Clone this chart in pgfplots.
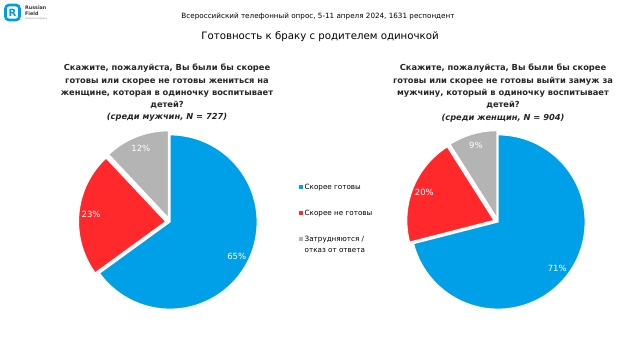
\documentclass[border=0pt]{standalone}
\usepackage{pgfplots}
\pgfplotsset{compat=1.18}
\usepackage{pgfplotstable}
\usepackage{fontspec}
\setmainfont{DejaVu Sans}
\definecolor{pieblue}{RGB}{0,160,233}
\definecolor{piered}{RGB}{255,40,42}
\definecolor{piegray}{RGB}{180,180,180}
\definecolor{logoblue}{RGB}{0,155,225}

\pgfplotstableread{
idx pct
0 65
1 23
2 12
}\menTable
\pgfplotstableread{
idx pct
0 71
1 20
2 9
}\womenTable

% draw one pie from a table (values in percent, clockwise from 12 o'clock)
\newcommand{\drawpie}[1]{%
  \pgfplotstablegetelem{0}{pct}\of#1\edef\pA{\pgfplotsretval}%
  \pgfplotstablegetelem{1}{pct}\of#1\edef\pB{\pgfplotsretval}%
  \pgfplotstablegetelem{2}{pct}\of#1\edef\pC{\pgfplotsretval}%
  \pgfmathsetmacro\aS{90}%
  \pgfmathsetmacro\aA{90-3.6*\pA}%
  \pgfmathsetmacro\aB{\aA-3.6*\pB}%
  \pgfmathsetmacro\aC{\aB-3.6*\pC}%
  \pgfmathsetmacro\mA{(\aS+\aA)/2}%
  \pgfmathsetmacro\mB{(\aA+\aB)/2}%
  \pgfmathsetmacro\mC{(\aB+\aC)/2}%
  \pgfmathsetmacro\dxB{0.05*cos(\mB)}\pgfmathsetmacro\dyB{0.05*sin(\mB)}%
  \pgfmathsetmacro\dxC{0.05*cos(\mC)}\pgfmathsetmacro\dyC{0.05*sin(\mC)}%
  \addplot[fill=pieblue, draw=white, line width=1pt, domain=\aA:\aS, samples=90, variable=\t]
     ({cos(\t)},{sin(\t)}) -- (axis cs:0,0) -- cycle;
  \addplot[fill=piered, draw=white, line width=1pt, domain=\aB:\aA, samples=40, variable=\t]
     ({\dxB+cos(\t)},{\dyB+sin(\t)}) -- (axis cs:\dxB,\dyB) -- cycle;
  \addplot[fill=piegray, draw=white, line width=1pt, domain=\aC:\aB, samples=30, variable=\t]
     ({\dxC+cos(\t)},{\dyC+sin(\t)}) -- (axis cs:\dxC,\dyC) -- cycle;
  \node[white, font=\fontsize{8.5}{10}\selectfont] at (axis cs:{0.86*cos(\mA)},{0.86*sin(\mA)}) {\pA\%};
  \node[white, font=\fontsize{8.5}{10}\selectfont] at (axis cs:{\dxB+0.86*cos(\mB)},{\dyB+0.86*sin(\mB)}) {\pB\%};
  \node[white, font=\fontsize{8.5}{10}\selectfont] at (axis cs:{\dxC+0.86*cos(\mC)},{\dyC+0.86*sin(\mC)}) {\pC\%};
}

\begin{document}
\begin{tikzpicture}[x=1pt,y=1pt]
\pgfplotsset{pieaxis/.style={hide axis, scale only axis, width=196pt, height=196pt,
  xmin=-1.125, xmax=1.125, ymin=-1.125, ymax=1.125, anchor=center, clip=false}}

\begin{axis}[pieaxis, at={(170pt,139pt)}]
\drawpie{\menTable}
\end{axis}
\begin{axis}[pieaxis, at={(498pt,139pt)}]
\drawpie{\womenTable}
\end{axis}

% header
\node[font=\fontsize{7.2}{9}\selectfont] at (318,344) {Всероссийский телефонный опрос, 5-11 апреля 2024, 1631 респондент};
\node[font=\fontsize{10.2}{12}\selectfont] at (320,324) {Готовность к браку с родителем одиночкой};

% questions
\node[font=\fontsize{8.3}{12.3}\selectfont\bfseries, align=center, color=black!85] at (167,268)
 {Скажите, пожалуйста, Вы были бы скорее\\готовы или скорее не готовы жениться на\\женщине, которая в одиночку воспитывает\\детей?\\{\itshape (среди мужчин, N = 727)}};
\node[font=\fontsize{8.3}{12.3}\selectfont\bfseries, align=center, color=black!85] at (503,268)
 {Скажите, пожалуйста, Вы были бы скорее\\готовы или скорее не готовы выйти замуж за\\мужчину, который в одиночку воспитывает\\детей?\\{\itshape (среди женщин, N = 904)}};

% legend
\fill[pieblue] (299,171.5) rectangle (303,175.5);
\node[anchor=west, font=\fontsize{7.2}{9}\selectfont, inner sep=0pt] at (304.5,173.5) {Скорее готовы};
\fill[piered] (299,145.5) rectangle (303,149.5);
\node[anchor=west, font=\fontsize{7.2}{9}\selectfont, inner sep=0pt] at (304.5,147.5) {Скорее не готовы};
\fill[piegray] (299,119.5) rectangle (303,123.5);
\node[anchor=north west, font=\fontsize{7.2}{11.5}\selectfont, inner sep=0pt, align=left] at (304.5,125.5) {Затрудняются /\\отказ от ответа};

% logo
\draw[logoblue, line width=2.6pt, rounded corners=3.5pt] (5.5,341) rectangle (19.5,356);
\node[logoblue, font=\fontsize{10}{10}\selectfont\bfseries, inner sep=0pt] at (12.5,348.5) {R};
\node[anchor=west, font=\fontsize{4.8}{5}\selectfont\bfseries, inner sep=0pt, color=black!80] at (25,353) {Russian};
\node[anchor=west, font=\fontsize{4.8}{5}\selectfont\bfseries, inner sep=0pt, color=black!80] at (25,347) {Field};
\node[anchor=west, font=\fontsize{2.4}{3}\selectfont, inner sep=0pt, color=black!50] at (25,342) {research company};

\pgfresetboundingbox
\path[use as bounding box] (0,0) rectangle (642,361);
\end{tikzpicture}
\end{document}
